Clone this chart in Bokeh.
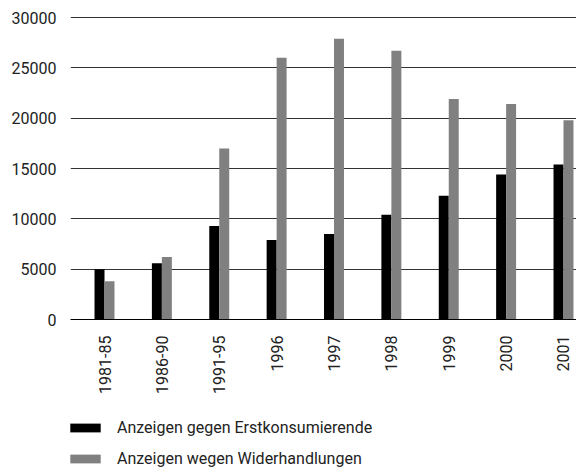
import math
from bokeh.plotting import figure
from bokeh.layouts import column
from bokeh.models import ColumnDataSource, FixedTicker, Range1d, Legend, LegendItem
from bokeh.transform import dodge
from bokeh.embed import file_html
from bokeh.resources import INLINE

categories = ["1981-85", "1986-90", "1991-95", "1996", "1997", "1998", "1999", "2000", "2001"]
erstkonsum = [5000, 5600, 9300, 7900, 8500, 10400, 12300, 14400, 15400]
widerhandlungen = [3800, 6200, 17000, 26000, 27900, 26700, 21900, 21400, 19800]
y_ticks = [0, 5000, 10000, 15000, 20000, 25000, 30000]
series_names = ["Anzeigen gegen Erstkonsumierende", "Anzeigen wegen Widerhandlungen"]
series_colors = ["#000000", "#808080"]

idx = list(range(len(categories)))
src = ColumnDataSource(dict(x=idx, a=erstkonsum, b=widerhandlungen))

FONT = "Roboto"
TXT = "#222222"

p = figure(frame_width=506, frame_height=307, output_backend="svg", toolbar_location=None,
           x_range=Range1d(-0.5926, 8.2266), y_range=Range1d(0, 30500),
           min_border_left=70, min_border_right=0, min_border_top=12, min_border_bottom=80)
p.outline_line_color = None
p.background_fill_color = "white"

bw = 0.174
p.vbar(x=dodge("x", -bw / 2, range=p.x_range), top="a", width=bw, source=src,
       fill_color=series_colors[0], line_color=None)
p.vbar(x=dodge("x", bw / 2, range=p.x_range), top="b", width=bw, source=src,
       fill_color=series_colors[1], line_color=None)

p.xgrid.grid_line_color = None
p.ygrid.ticker = FixedTicker(ticks=y_ticks)
p.ygrid.grid_line_color = "#333333"
p.ygrid.grid_line_width = 1

ya = p.yaxis[0]
ya.ticker = FixedTicker(ticks=y_ticks)
ya.axis_line_color = None
ya.major_tick_line_color = None
ya.minor_tick_line_color = None
ya.major_label_standoff = 8
ya.major_label_text_font = FONT
ya.major_label_text_font_size = "16px"
ya.major_label_text_color = TXT

xa = p.xaxis[0]
xa.ticker = FixedTicker(ticks=idx)
xa.major_label_overrides = {i: c for i, c in zip(idx, categories)}
xa.major_label_orientation = math.pi / 2
xa.axis_line_color = "#000000"
xa.axis_line_width = 1
xa.major_tick_line_color = None
xa.minor_tick_line_color = None
xa.major_label_standoff = 10
xa.major_label_text_font = FONT
xa.major_label_text_font_size = "16px"
xa.major_label_text_color = TXT

# legend figure (its bars lie outside its own view; only the legend shows)
p2 = figure(width=576, height=69, output_backend="svg", toolbar_location=None,
            x_range=Range1d(-100, -99), y_range=Range1d(0, 1),
            min_border_left=0, min_border_right=0, min_border_top=0, min_border_bottom=0)
p2.axis.visible = False
p2.grid.visible = False
p2.outline_line_color = None
l1 = p2.vbar(x="x", top="a", width=bw, source=src, fill_color=series_colors[0], line_color=None)
l2 = p2.vbar(x="x", top="b", width=bw, source=src, fill_color=series_colors[1], line_color=None)

legend = Legend(items=[LegendItem(label=series_names[0], renderers=[l1]),
                       LegendItem(label=series_names[1], renderers=[l2])],
                orientation="vertical", location=(-4, 0))
legend.glyph_width = 38
legend.glyph_height = 11
legend.label_standoff = 13
legend.label_text_font = FONT
legend.label_text_font_size = "16px"
legend.label_text_color = TXT
legend.label_height = 20
legend.spacing = 11
legend.padding = 0
legend.margin = 0
legend.border_line_color = None
legend.background_fill_alpha = 0
p2.add_layout(legend, "center")

layout = column(p, p2, spacing=0)
open("out.html", "w").write(file_html(layout, INLINE))
